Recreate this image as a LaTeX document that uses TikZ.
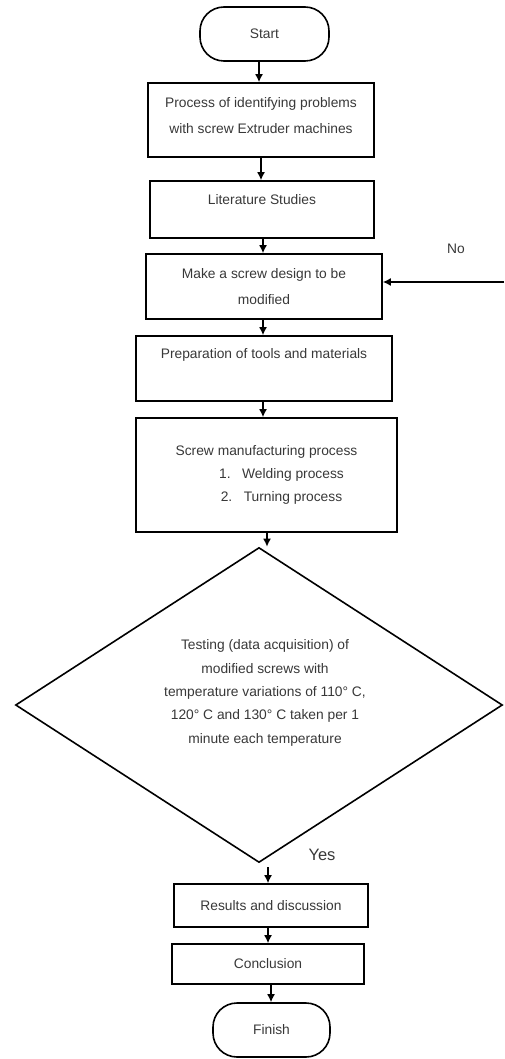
\documentclass[tikz,border=0pt]{standalone}
\usepackage{fontspec}
\setmainfont{Liberation Sans}
\usetikzlibrary{arrows.meta,shapes.geometric}
\begin{document}
\begin{tikzpicture}[x=1pt,y=-1pt,
  every node/.style={text=black!78},
  box/.style={draw=black, line width=1.6pt, inner sep=0pt, align=center,
              font=\fontsize{13.8}{26}\selectfont},
  term/.style={box, rounded corners=24pt},
  dia/.style={draw=black, line width=1.6pt, diamond, inner sep=0pt},
  txt/.style={align=center, inner sep=0pt, font=\fontsize{13.8}{23.3}\selectfont},
  arr/.style={line width=1.5pt, -{Latex[length=8pt,width=8pt]}},
  lbl/.style={font=\fontsize{13.8}{15}\selectfont}]
\useasboundingbox (0,0) rectangle (504,1059);

\node[term, minimum width=129pt, minimum height=54pt] (start) at (264.5,34) {Start};
\node[box, minimum width=226pt, minimum height=74pt] (b1) at (261,120)
  {Process of identifying problems\\with screw Extruder machines\\[-25pt]\strut};
\node[box, minimum width=224pt, minimum height=57pt] (b2) at (262,209.5)
  {Literature Studies\\[-13pt]\strut};
\node[box, minimum width=236pt, minimum height=65pt] (b3) at (264,286.5)
  {Make a screw design to be\\modified};
\node[box, minimum width=256pt, minimum height=65pt] (b4) at (264,368.5)
  {Preparation of tools and materials\\[-4pt]\strut};
\node[box, minimum width=261pt, minimum height=114pt, font=\fontsize{13.8}{23}\selectfont] (b5) at (266.5,475)
  {Screw manufacturing process\\
   \hspace*{30pt}\makebox[23pt][l]{1.}Welding process\\
   \hspace*{30pt}\makebox[23pt][l]{2.}Turning process};
\node[dia, minimum width=487pt, minimum height=315pt] (test) at (259,705) {};
\node[txt] (testtxt) at (265,693)
  {Testing (data acquisition) of\\modified screws with\\temperature variations of 110° C,\\120° C and 130° C taken per 1\\minute each temperature};
\node[box, minimum width=194pt, minimum height=43pt] (b6) at (271,905.5) {Results and discussion};
\node[box, minimum width=192pt, minimum height=40pt] (b7) at (268,964) {Conclusion};
\node[term, minimum width=117pt, minimum height=54pt] (finish) at (271.5,1030) {Finish};

\node[lbl] (no) at (456,249) {No};
\node[font=\fontsize{16.5}{18}\selectfont] (yes) at (322,855) {Yes};
\coordinate (noin) at (504,282);

\draw[arr] (start.south -| 259,0) -- (b1.north -| 259,0);
\draw[arr] (b1.south -| 261,0) -- (b2.north -| 261,0);
\draw[arr] (b2.south -| 263,0) -- (b3.north -| 263,0);
\draw[arr] (b3.south -| 263,0) -- (b4.north -| 263,0);
\draw[arr] (b4.south -| 263,0) -- (b5.north -| 263,0);
\draw[arr] (b5.south -| 267,0) -- (test.north -| 267,0);
\draw[arr] ([yshift=-4pt]test.south -| 268,0) -- (b6.north -| 268,0);
\draw[arr] (b6.south -| 268,0) -- (b7.north -| 268,0);
\draw[arr] (b7.south -| 271,0) -- (finish.north -| 271,0);
\draw[arr] (noin) -- (b3.east |- noin);
\end{tikzpicture}
\end{document}
